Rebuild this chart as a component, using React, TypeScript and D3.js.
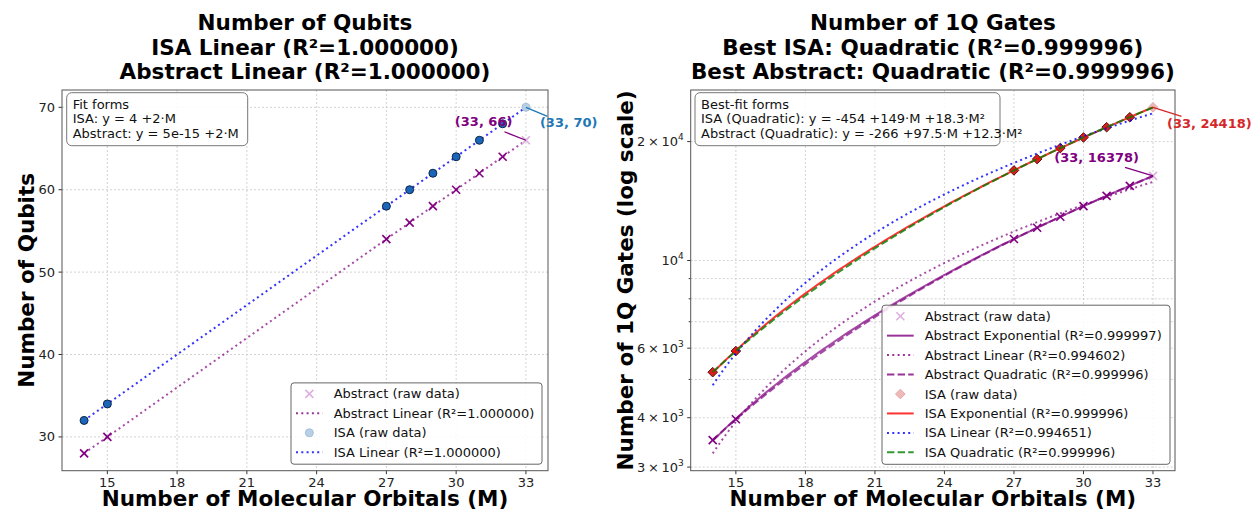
import React from 'react';
import * as d3 from 'd3';

// raw data
const orbitals = [14, 15, 27, 28, 29, 30, 31, 32, 33];
const isaQubits = [32, 34, 58, 60, 62, 64, 66, 68, 70];
const abstractQubits = [28, 30, 54, 56, 58, 60, 62, 64, 66];
const isaGates = [5216, 5900, 16908, 18064, 19258, 20488, 21752, 23052, 24418];
const abstractGates = [3510, 3964, 11334, 12106, 12906, 13730, 14578, 15450, 16378];

const xTicks = [15, 18, 21, 24, 27, 30, 33];
const qubitTicks = [30, 40, 50, 60, 70];
const gateGrid = [3000, 4000, 5000, 6000, 7000, 8000, 9000, 10000, 20000];
const gateLabelled = [3000, 4000, 6000, 10000, 20000];

const leftTitle = ['Number of Qubits', 'ISA Linear (R²=1.000000)', 'Abstract Linear (R²=1.000000)'];
const rightTitle = ['Number of 1Q Gates', 'Best ISA: Quadratic (R²=0.999996)', 'Best Abstract: Quadratic (R²=0.999996)'];
const leftForms = ['Fit forms', 'ISA: y = 4 +2·M', 'Abstract: y = 5e-15 +2·M'];
const rightForms = ['Best-fit forms', 'ISA (Quadratic): y = -454 +149·M +18.3·M²', 'Abstract (Quadratic): y = -266 +97.5·M +12.3·M²'];
const leftLegend = ['Abstract (raw data)', 'Abstract Linear (R²=1.000000)', 'ISA (raw data)', 'ISA Linear (R²=1.000000)'];
const rightLegend = [
  'Abstract (raw data)', 'Abstract Exponential (R²=0.999997)', 'Abstract Linear (R²=0.994602)', 'Abstract Quadratic (R²=0.999996)',
  'ISA (raw data)', 'ISA Exponential (R²=0.999996)', 'ISA Linear (R²=0.994651)', 'ISA Quadratic (R²=0.999996)',
];

const FONT = 'DejaVu Sans';
const PURPLE = '#800080';
const ISA_BLUE = '#1f77b4';
const ISA_RED = '#d62728';

// least squares polynomial fit
function polyfit(x: number[], y: number[], deg: number) {
  const n = deg + 1;
  const A = Array.from({ length: n }, () => new Array(n + 1).fill(0));
  for (let k = 0; k < x.length; k++) {
    for (let i = 0; i < n; i++) {
      for (let j = 0; j < n; j++) A[i][j] += Math.pow(x[k], i + j);
      A[i][n] += y[k] * Math.pow(x[k], i);
    }
  }
  for (let i = 0; i < n; i++) {
    for (let r = i + 1; r < n; r++) {
      const f = A[r][i] / A[i][i];
      for (let c = i; c <= n; c++) A[r][c] -= f * A[i][c];
    }
  }
  const coef = new Array(n).fill(0);
  for (let i = n - 1; i >= 0; i--) {
    let s = A[i][n];
    for (let j = i + 1; j < n; j++) s -= A[i][j] * coef[j];
    coef[i] = s / A[i][i];
  }
  return (v: number) => coef.reduce((s, c, i) => s + c * Math.pow(v, i), 0);
}

// y = a*exp(b*x) + c, scan b and solve a, c by least squares
function expfit(x: number[], y: number[]) {
  let best = { sse: Infinity, a: 0, b: 0, c: 0 };
  for (let b = 0.001; b <= 0.3; b += 0.0002) {
    const e = x.map(v => Math.exp(b * v));
    const me = d3.mean(e)!, my = d3.mean(y)!;
    let see = 0, sey = 0;
    e.forEach((v, i) => { see += (v - me) ** 2; sey += (v - me) * (y[i] - my); });
    const a = sey / see, c = my - a * me;
    const sse = d3.sum(e, (v, i) => (a * v + c - y[i]) ** 2);
    if (sse < best.sse) best = { sse, a, b, c };
  }
  return (v: number) => best.a * Math.exp(best.b * v) + best.c;
}

const xs = d3.range(0, 101).map(i => 14 + (19 * i) / 100);

const W = 1256, H = 512;
const L = { left: 62, right: 548, top: 90, bottom: 470.7 };
const R = { left: 690.7, right: 1175, top: 90, bottom: 470.7 };

const xL = d3.scaleLinear().domain([13.05, 33.95]).range([L.left, L.right]);
const xR = d3.scaleLinear().domain([13.05, 33.95]).range([R.left, R.right]);
const yL = d3.scaleLinear().domain([25.9, 72.1]).range([L.bottom, L.top]);

const isaLinQ = polyfit(orbitals, isaQubits, 1);
const absLinQ = polyfit(orbitals, abstractQubits, 1);
const absExp = expfit(orbitals, abstractGates);
const absLin = polyfit(orbitals, abstractGates, 1);
const absQuad = polyfit(orbitals, abstractGates, 2);
const isaExp = expfit(orbitals, isaGates);
const isaLin = polyfit(orbitals, isaGates, 1);
const isaQuad = polyfit(orbitals, isaGates, 2);

const allGate = [...isaGates, ...abstractGates, ...[absExp, absLin, absQuad, isaExp, isaLin, isaQuad].flatMap(f => xs.map(f))];
const lo = Math.log10(d3.min(allGate)!), hi = Math.log10(d3.max(allGate)!);
const pad = (hi - lo) * 0.05;
const yR = d3.scaleLog().domain([10 ** (lo - pad), 10 ** (hi + pad)]).range([R.bottom, R.top]);

const DOT = '2,3.3';
const DASH = '7.4,3.2';

const XMark = ({ x, y, color, s = 4 }: any) => (
  <g stroke={color} strokeWidth={1.6}>
    <line x1={x - s} y1={y - s} x2={x + s} y2={y + s} />
    <line x1={x - s} y1={y + s} x2={x + s} y2={y - s} />
  </g>
);
const Diamond = ({ x, y, fill, stroke, s = 4.8 }: any) => (
  <path d={`M${x},${y - s}L${x + s},${y}L${x},${y + s}L${x - s},${y}Z`} fill={fill} stroke={stroke} strokeWidth={1} />
);

function FitLine({ f, x, y, color, dash, opacity = 0.8 }: any) {
  const line = d3.line<number>().x(v => x(v)).y(v => y(f(v)));
  return <path d={line(xs)!} fill="none" stroke={color} strokeWidth={2} strokeDasharray={dash} opacity={opacity} />;
}

function Frame({ box, x, yTicks, y, labelled, fmt }: any) {
  return (
    <g fontFamily={FONT}>
      {xTicks.map(t => (
        <line key={'gx' + t} x1={x(t)} x2={x(t)} y1={box.top} y2={box.bottom} stroke="#c8c8c8" strokeWidth={0.8} strokeDasharray="2,2" />
      ))}
      {yTicks.map((t: number) => (
        <line key={'gy' + t} x1={box.left} x2={box.right} y1={y(t)} y2={y(t)} stroke="#c8c8c8" strokeWidth={0.8} strokeDasharray="2,2" />
      ))}
      {xTicks.map(t => (
        <g key={'tx' + t}>
          <line x1={x(t)} x2={x(t)} y1={box.bottom} y2={box.bottom + 3.5} stroke="#333" />
          <text x={x(t)} y={box.bottom + 16} textAnchor="middle" fontSize={13} fill="#222">{t}</text>
        </g>
      ))}
      {yTicks.map((t: number) => (
        <g key={'ty' + t}>
          <line x1={box.left - (labelled.includes(t) ? 3.5 : 2)} x2={box.left} y1={y(t)} y2={y(t)} stroke="#333" />
          {labelled.includes(t) && (
            <text x={box.left - 7} y={y(t)} dy="0.35em" textAnchor="end" fontSize={13} fill="#222">{fmt(t)}</text>
          )}
        </g>
      ))}
    </g>
  );
}

function Border({ box }: any) {
  return <rect x={box.left} y={box.top} width={box.right - box.left} height={box.bottom - box.top} fill="none" stroke="#555" strokeWidth={1} />;
}

function Titles({ cx, lines }: any) {
  return (
    <text fontFamily={FONT} fontWeight="bold" fontSize={21.5} textAnchor="middle" fill="#000">
      {lines.map((l: string, i: number) => <tspan key={i} x={cx} y={30 + i * 24.5}>{l}</tspan>)}
    </text>
  );
}

function FormBox({ x, y, w, lines }: any) {
  return (
    <g fontFamily={FONT} fontSize={13}>
      <rect x={x} y={y} width={w} height={53} rx={5} fill="#fff" fillOpacity={0.85} stroke="#777" strokeWidth={1} />
      {lines.map((l: string, i: number) => (
        <text key={i} x={x + 6} y={y + 11.5 + i * 14.6} dy="0.35em" fill="#111">{l}</text>
      ))}
    </g>
  );
}

function Legend({ right, bottom, w, items }: any) {
  const rowH = 19.45;
  const h = items.length * rowH + 3.5;
  const x0 = right - w, y0 = bottom - h;
  return (
    <g fontFamily={FONT} fontSize={13}>
      <rect x={x0} y={y0} width={w} height={h} rx={3} fill="#fff" fillOpacity={0.85} stroke="#666" strokeWidth={1} />
      {items.map((it: any, i: number) => {
        const cy = y0 + 11 + i * rowH;
        const hx = x0 + 5, hw = 26.7, mx = hx + hw / 2;
        return (
          <g key={i}>
            {it.kind === 'line' && (
              <line x1={hx} x2={hx + hw} y1={cy} y2={cy} stroke={it.color} strokeWidth={2} strokeDasharray={it.dash} opacity={0.8} />
            )}
            {it.kind === 'x' && <XMark x={mx} y={cy} color="#ddb0dd" />}
            {it.kind === 'o' && <circle cx={mx} cy={cy} r={4} fill="#b7d0e6" stroke="#a5c0d8" />}
            {it.kind === 'd' && <Diamond x={mx} y={cy} fill="#f0b8b8" stroke="#e0a8a8" />}
            <text x={hx + hw + 11} y={cy} dy="0.35em" fill="#111">{it.label}</text>
          </g>
        );
      })}
    </g>
  );
}

const fmtLog = (v: number) => {
  const e = Math.floor(Math.log10(v) + 1e-9);
  const m = Math.round(v / 10 ** e);
  return (
    <>
      <tspan>{m === 1 ? '10' : `${m}\u2009×\u200910`}</tspan>
      <tspan dy="-6" fontSize={9}>{e}</tspan>
    </>
  );
};

export default function App() {
  const n = orbitals.length;
  const last = n - 1;
  const leftItems = [
    { kind: 'x', label: leftLegend[0] },
    { kind: 'line', color: PURPLE, dash: DOT, label: leftLegend[1] },
    { kind: 'o', label: leftLegend[2] },
    { kind: 'line', color: '#0000ff', dash: DOT, label: leftLegend[3] },
  ];
  const rightItems = [
    { kind: 'x', label: rightLegend[0] },
    { kind: 'line', color: PURPLE, dash: undefined, label: rightLegend[1] },
    { kind: 'line', color: PURPLE, dash: DOT, label: rightLegend[2] },
    { kind: 'line', color: PURPLE, dash: DASH, label: rightLegend[3] },
    { kind: 'd', label: rightLegend[4] },
    { kind: 'line', color: '#ff0000', dash: undefined, label: rightLegend[5] },
    { kind: 'line', color: '#0000ff', dash: DOT, label: rightLegend[6] },
    { kind: 'line', color: '#008000', dash: DASH, label: rightLegend[7] },
  ];

  const pI = { x: xL(orbitals[last]), y: yL(isaQubits[last]) };
  const pA = { x: xL(orbitals[last]), y: yL(abstractQubits[last]) };
  const gI = { x: xR(orbitals[last]), y: yR(isaGates[last]) };
  const gA = { x: xR(orbitals[last]), y: yR(abstractGates[last]) };

  return (
    <svg width={W} height={H} style={{ position: 'absolute', left: 0, top: 0, background: '#fff' }}>
      <rect width={W} height={H} fill="#fff" />

      {/* left panel */}
      <Frame box={L} x={xL} y={yL} yTicks={qubitTicks} labelled={qubitTicks} fmt={(t: number) => t} />
      <FitLine f={absLinQ} x={xL} y={yL} color={PURPLE} dash={DOT} opacity={0.7} />
      <FitLine f={isaLinQ} x={xL} y={yL} color="#0000ff" dash={DOT} />
      {orbitals.map((m, i) => i === last
        ? <XMark key={'a' + i} x={xL(m)} y={yL(abstractQubits[i])} color="#ddb0dd" />
        : <XMark key={'a' + i} x={xL(m)} y={yL(abstractQubits[i])} color={PURPLE} />)}
      {orbitals.map((m, i) => i === last
        ? <circle key={'i' + i} cx={xL(m)} cy={yL(isaQubits[i])} r={4} fill="#b7d0e6" stroke="#a5c0d8" />
        : <circle key={'i' + i} cx={xL(m)} cy={yL(isaQubits[i])} r={4} fill="#1b66b8" stroke="#0c2748" strokeWidth={1} />)}
      <Border box={L} />
      <line x1={pI.x} y1={pI.y} x2={pI.x + 21.5} y2={pI.y + 9} stroke={ISA_BLUE} strokeWidth={1.3} />
      <text x={pI.x + 14} y={pI.y + 20} fontFamily={FONT} fontWeight="bold" fontSize={13} fill={ISA_BLUE}>({orbitals[last]}, {isaQubits[last]})</text>
      <line x1={pA.x - 21.5} y1={pA.y - 8.5} x2={pA.x} y2={pA.y} stroke={PURPLE} strokeWidth={1.3} />
      <text x={pA.x - 13.5} y={pA.y - 14} textAnchor="end" fontFamily={FONT} fontWeight="bold" fontSize={13} fill={PURPLE}>({orbitals[last]}, {abstractQubits[last]})</text>
      <FormBox x={L.left + 4.7} y={L.top + 2.7} w={181} lines={leftForms} />
      <Legend right={L.right - 6} bottom={L.bottom - 6.5} w={251} items={leftItems} />
      <Titles cx={(L.left + L.right) / 2} lines={leftTitle} />
      <text x={(L.left + L.right) / 2} y={506} textAnchor="middle" fontFamily={FONT} fontWeight="bold" fontSize={21.5}>Number of Molecular Orbitals (M)</text>
      <text transform={`translate(33.5,${(L.top + L.bottom) / 2}) rotate(-90)`} textAnchor="middle" fontFamily={FONT} fontWeight="bold" fontSize={21.5}>Number of Qubits</text>

      {/* right panel */}
      <Frame box={R} x={xR} y={yR} yTicks={gateGrid} labelled={gateLabelled} fmt={fmtLog} />
      {orbitals.map((m, i) => i === last
        ? <XMark key={'ga' + i} x={xR(m)} y={yR(abstractGates[i])} color="#ddb0dd" />
        : <XMark key={'ga' + i} x={xR(m)} y={yR(abstractGates[i])} color={PURPLE} />)}
      <FitLine f={absExp} x={xR} y={yR} color={PURPLE} opacity={0.7} />
      <FitLine f={absLin} x={xR} y={yR} color={PURPLE} dash={DOT} opacity={0.7} />
      <FitLine f={absQuad} x={xR} y={yR} color={PURPLE} dash={DASH} opacity={0.7} />
      {orbitals.map((m, i) => i === last
        ? <Diamond key={'gi' + i} x={xR(m)} y={yR(isaGates[i])} fill="#f0b8b8" stroke="#e0a8a8" />
        : <Diamond key={'gi' + i} x={xR(m)} y={yR(isaGates[i])} fill="#d81f1f" stroke="#5a1010" />)}
      <FitLine f={isaExp} x={xR} y={yR} color="#ff0000" />
      <FitLine f={isaLin} x={xR} y={yR} color="#0000ff" dash={DOT} />
      <FitLine f={isaQuad} x={xR} y={yR} color="#008000" dash={DASH} />
      <Border box={R} />
      <line x1={gI.x} y1={gI.y} x2={gI.x + 28.5} y2={gI.y + 9} stroke={ISA_RED} strokeWidth={1.3} />
      <text x={gI.x + 14} y={gI.y + 20.4} fontFamily={FONT} fontWeight="bold" fontSize={13} fill={ISA_RED}>({orbitals[last]}, {isaGates[last]})</text>
      <line x1={gA.x - 28} y1={gA.y - 8.5} x2={gA.x} y2={gA.y} stroke={PURPLE} strokeWidth={1.3} />
      <text x={gA.x - 14} y={gA.y - 14} textAnchor="end" fontFamily={FONT} fontWeight="bold" fontSize={13} fill={PURPLE}>({orbitals[last]}, {abstractGates[last]})</text>
      <FormBox x={R.left + 4.3} y={R.top + 2.7} w={305} lines={rightForms} />
      <Legend right={R.right - 5} bottom={R.bottom - 6.4} w={288} items={rightItems} />
      <Titles cx={(R.left + R.right) / 2} lines={rightTitle} />
      <text x={(R.left + R.right) / 2} y={506} textAnchor="middle" fontFamily={FONT} fontWeight="bold" fontSize={21.5}>Number of Molecular Orbitals (M)</text>
      <text transform={`translate(633,${(R.top + R.bottom) / 2}) rotate(-90)`} textAnchor="middle" fontFamily={FONT} fontWeight="bold" fontSize={21.5}>Number of 1Q Gates (log scale)</text>
    </svg>
  );
}
